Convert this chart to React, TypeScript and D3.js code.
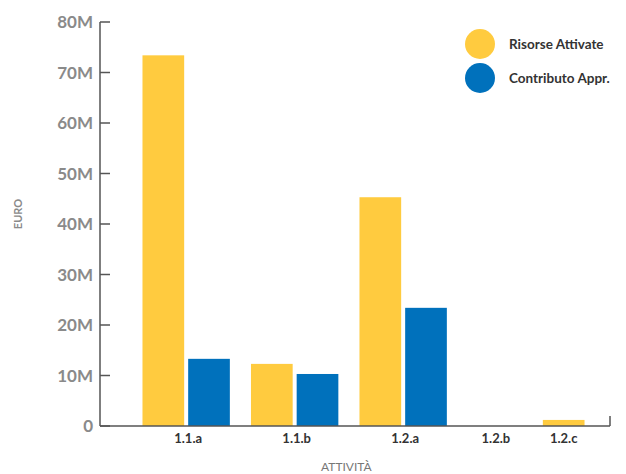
import React from "react";
import * as d3 from "d3";

const categories = ["1.1.a", "1.1.b", "1.2.a", "1.2.b", "1.2.c"];
const seriesNames = ["Risorse Attivate", "Contributo Appr."];
const risorseAttivate = [73.4e6, 12.3e6, 45.3e6, 0, 1.2e6];
const contributoAppr = [13.3e6, 10.3e6, 23.4e6, 0, 0];
const yTicks = [0, 10e6, 20e6, 30e6, 40e6, 50e6, 60e6, 70e6, 80e6];
const colors = ["#FFCB3F", "#0071BC"];

const W = 626;
const H = 474;
const FONT = "Lato, 'Open Sans', sans-serif";

export default function App() {
  const left = 100;
  const right = 608;
  const top = 22;
  const bottom = 426;

  const y = d3.scaleLinear().domain([0, 80e6]).range([bottom, top]);

  // slot-based layout: each category takes as many slots as it has non-zero bars
  const series = [risorseAttivate, contributoAppr];
  const lead = 0.93;
  const gap = 0.375;
  const trail = 0.47;
  const emptySlot = 1.22;
  const slots = categories.map((_, i) => {
    const n = series.filter((s) => s[i] > 0).length;
    return n === 0 ? emptySlot : n;
  });
  const total = lead + d3.sum(slots) + gap * (slots.length - 1) + trail;
  const x = d3.scaleLinear().domain([0, total]).range([left, right]);
  const starts: number[] = [];
  let acc = lead;
  slots.forEach((s) => {
    starts.push(acc);
    acc += s + gap;
  });
  const unit = x(1) - x(0);
  const innerPad = 4;
  const barW = unit - innerPad;

  const bars: { x: number; y: number; w: number; h: number; c: string; key: string }[] = [];
  categories.forEach((cat, i) => {
    let k = 0;
    series.forEach((s, si) => {
      if (s[i] > 0) {
        const n = series.filter((ss) => ss[i] > 0).length;
        bars.push({
          x: x(starts[i] + k) + (n === 1 ? innerPad / 2 : 0),
          y: y(s[i]),
          w: barW,
          h: y(0) - y(s[i]),
          c: colors[si],
          key: cat + si,
        });
        k++;
      }
    });
  });

  return (
    <svg width={W} height={H} style={{ position: "absolute", left: 0, top: 0 }}>
      <rect width={W} height={H} fill="#fff" />
      {bars.map((b) => (
        <rect key={b.key} x={b.x} y={b.y} width={b.w} height={b.h} fill={b.c} />
      ))}
      {/* y axis */}
      <line x1={left} x2={left} y1={top} y2={bottom} stroke="#555" strokeWidth={1.5} />
      {yTicks.map((t) => (
        <g key={t}>
          <line x1={left} x2={left + 10} y1={y(t)} y2={y(t)} stroke="#555" strokeWidth={1.5} />
          <text
            x={left - 7}
            y={y(t)}
            dy="0.36em"
            textAnchor="end"
            fontFamily={FONT}
            fontWeight={700}
            fontSize={17}
            fill="#8a8a8a"
          >
            {t === 0 ? "0" : `${t / 1e6}M`}
          </text>
        </g>
      ))}
      {/* x axis */}
      <line x1={left} x2={right + 2} y1={bottom} y2={bottom} stroke="#555" strokeWidth={1.5} />
      <line x1={right + 2} x2={right + 2} y1={bottom - 10} y2={bottom} stroke="#555" strokeWidth={1.5} />
      {categories.map((c, i) => (
        <text
          key={c}
          x={x(starts[i] + slots[i] / 2)}
          y={bottom + 17}
          textAnchor="middle"
          fontFamily={FONT}
          fontWeight={700}
          fontSize={13}
          fill="#333"
        >
          {c}
        </text>
      ))}
      <text
        x={left + (right - left) * 0.485}
        y={bottom + 45}
        textAnchor="middle"
        fontFamily={FONT}
        fontSize={12}
        fill="#777"
      >
        ATTIVITÀ
      </text>
      <text
        transform={`translate(22, 214) rotate(-90)`}
        textAnchor="middle"
        fontFamily={FONT}
        fontWeight={700}
        fontSize={11}
        fill="#8a8a8a"
      >
        EURO
      </text>
      {/* legend */}
      {seriesNames.map((n, i) => (
        <g key={n} transform={`translate(480, ${44 + i * 34})`}>
          <circle r={15} fill={colors[i]} />
          <text x={29} dy="0.35em" fontFamily={FONT} fontWeight={700} fontSize={13.5} fill="#333">
            {n}
          </text>
        </g>
      ))}
    </svg>
  );
}
